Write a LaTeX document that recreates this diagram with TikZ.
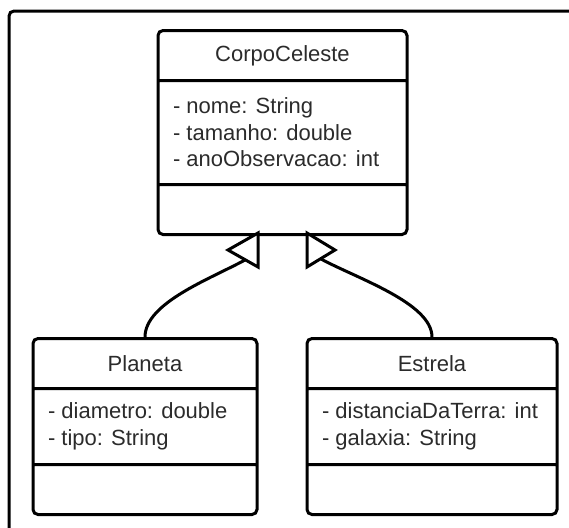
\documentclass[tikz,border=0pt]{standalone}
\usepackage{fontspec}
\setmainfont{Liberation Sans}
\usetikzlibrary{shapes.multipart,positioning}
\definecolor{txtgray}{rgb}{0.17,0.17,0.17}

\tikzset{
  umlclass/.style={rectangle split, rectangle split parts=3, draw, line width=1.5pt,
    rounded corners=2.5pt, inner xsep=7.5pt, inner ysep=0pt, text=txtgray,
    font=\fontsize{11}{13.25}\selectfont},
  gen/.style={draw, line width=1.5pt, fill=white, line join=miter},
  link/.style={line width=1.5pt},
  frame/.style={draw, line width=1.5pt, rounded corners=2.5pt}
}

\begin{document}
\begin{tikzpicture}[x=0.5pt, y=-0.5pt]
      \useasboundingbox (0,0) rectangle (569,527);
      \clip (0,0) rectangle (569,527);
      \draw[frame] (9,11) rectangle (650,620);

      % nodes

      %super
      \node[umlclass] (corpo) at (282.5,132.5) {%
        \parbox[c][23.5pt][c]{109.5pt}{\centering CorpoCeleste}%
        \nodepart{two}\parbox[c][50.5pt][c]{109.5pt}{- nome: String\\- tamanho: double\\- anoObservacao: int}%
        \nodepart{three}\parbox[c][23.5pt]{109.5pt}{}};

      %sub
      \node[umlclass, below=50.5pt of corpo, xshift=-68.75pt] (planeta) {%
        \parbox[c][23.5pt][c]{97pt}{\centering Planeta}%
        \nodepart{two}\parbox[c][36.5pt][c]{97pt}{- diametro: double\\- tipo: String}%
        \nodepart{three}\parbox[c][23.5pt]{97pt}{}};
      \node[umlclass, below=50.5pt of corpo, xshift=74.75pt] (estrela) {%
        \parbox[c][23.5pt][c]{110pt}{\centering Estrela}%
        \nodepart{two}\parbox[c][36.5pt][c]{110pt}{- distanciaDaTerra: int\\- galaxia: String}%
        \nodepart{three}\parbox[c][23.5pt]{110pt}{}};

      % edges
      \coordinate (endP) at (245,260);
      \coordinate (endE) at (321,259);
      \draw[link] (planeta.north) .. controls +(0,-34) and +(-35,19) .. (endP);
      \draw[link] (estrela.north) .. controls +(0,-34) and +(35,19) .. (endE);

      % heads
      \coordinate (tipP) at (228,250);
      \coordinate (tipE) at (335,250);
      \draw[gen] (tipP) -- ++(30,-17) -- ++(0,34) -- cycle;
      \draw[gen] (tipE) -- ++(-28,-17) -- ++(0,34) -- cycle;
\end{tikzpicture}
\end{document}
